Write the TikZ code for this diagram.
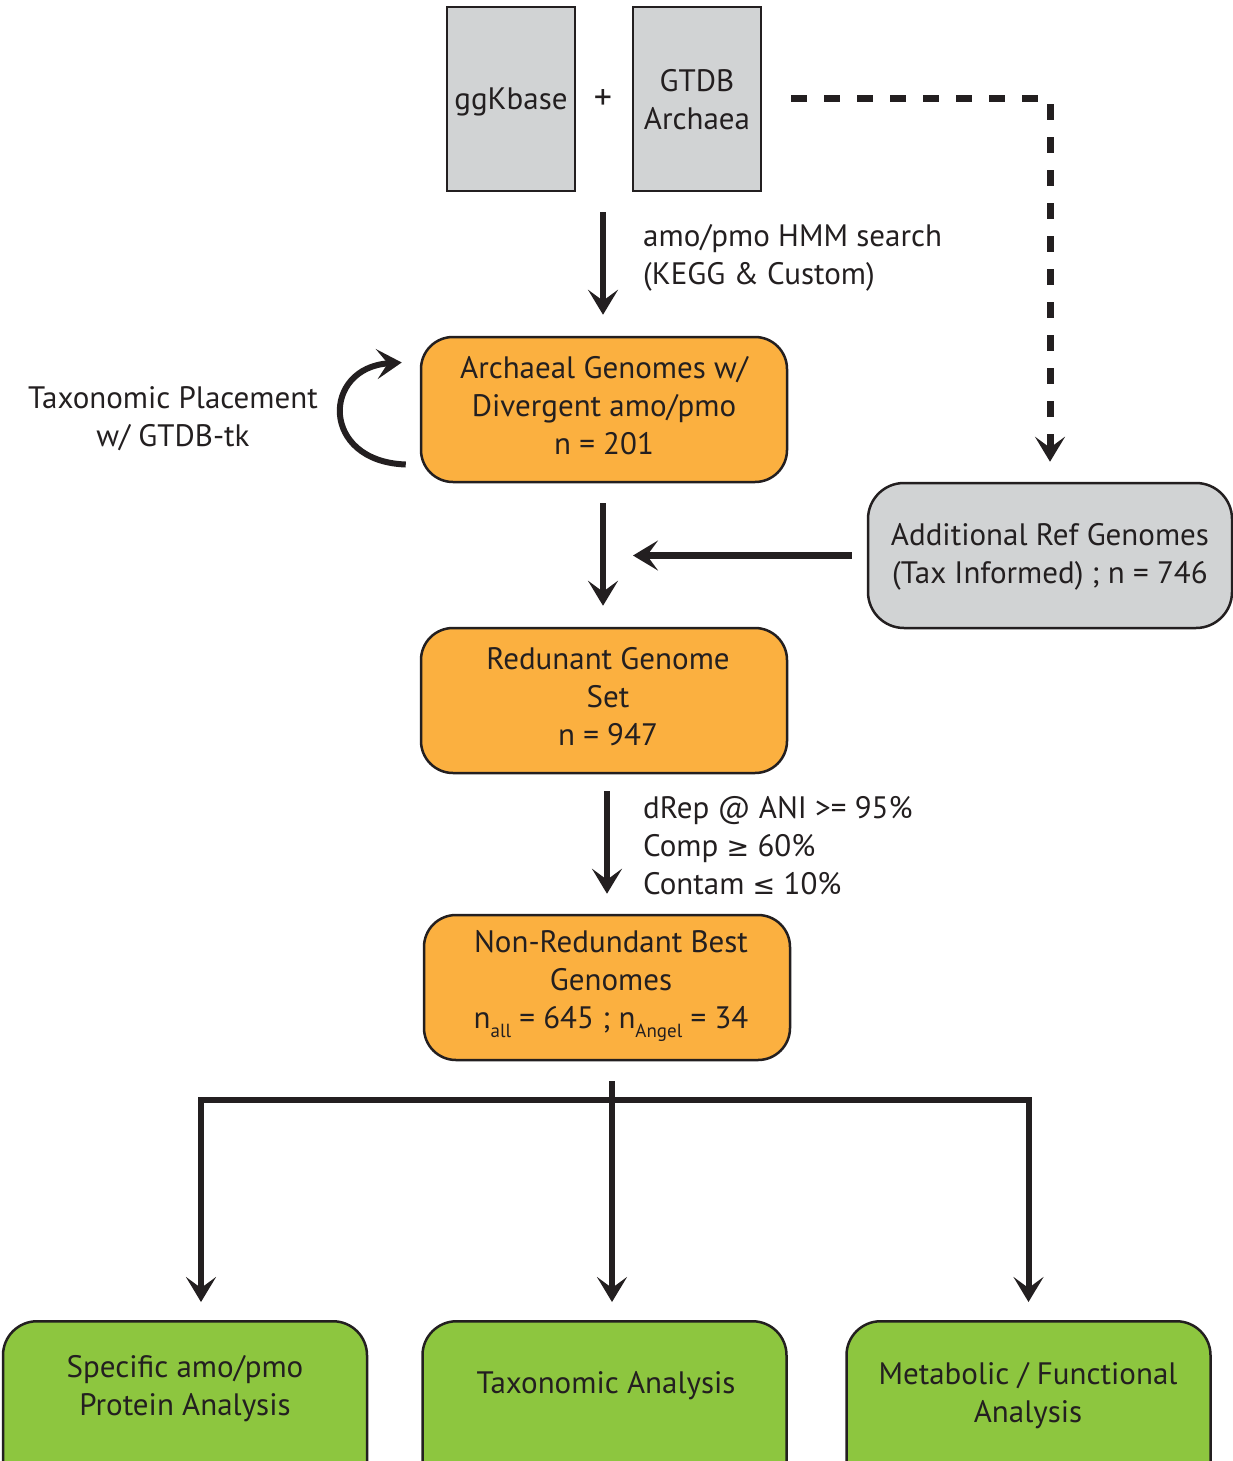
\documentclass[tikz,border=0pt]{standalone}
\usepackage{fontspec}
\setmainfont{PT Sans}
\newfontfamily\symf{DejaVu Sans}
\usetikzlibrary{arrows.meta,calc}
\definecolor{ink}{HTML}{231F20}
\definecolor{boxgray}{HTML}{D1D3D4}
\definecolor{orng}{HTML}{FBB040}
\definecolor{grn}{HTML}{8DC63F}
\newcommand{\lowsub}[1]{\raisebox{-0.32em}{\fontsize{19}{19}\selectfont #1}}
\begin{document}
\begin{tikzpicture}[x=1pt,y=-1pt,
  every node/.style={font=\fontsize{31}{38}\selectfont, text=ink},
  srcbox/.style={draw=ink, line width=2.5pt, fill=boxgray, minimum width=128pt, minimum height=184pt, inner sep=0pt, align=center},
  obox/.style={draw=ink, line width=2.5pt, fill=orng, rounded corners=32pt, minimum width=366pt, minimum height=145pt, inner sep=0pt},
  gbox/.style={draw=ink, line width=2.5pt, fill=grn, rounded corners=34pt, minimum width=364pt, minimum height=190pt, inner sep=0pt, anchor=north},
  txt/.style={align=center, inner sep=0pt},
  headtip/.style={-{Stealth[length=25pt,width=30pt,inset=11pt]}},
  flow/.style={draw=ink, line width=6.5pt, headtip},
  dashflow/.style={draw=ink, line width=7pt, dash pattern=on 16pt off 17pt, headtip},
]
\useasboundingbox (0,0) rectangle (1233,1461);

% source boxes
\node[srcbox] (gg) at (511,99) {};
\node[txt] (ggt) at (511,102) {ggKbase};
\node[srcbox] (gtdb) at (697,99) {};
\node[txt] (gtdbt) at (697,100) {GTDB\\Archaea};
\node[txt, font=\fontsize{36}{38}\selectfont] (plus) at (603,100) {+};

% orange boxes
\node[obox] (arch) at (604,409.5) {};
\node[txt] (archt) at (604,406) {Archaeal Genomes w/\\Divergent amo/pmo\\n = 201};
\node[obox] (red) at (604,700.5) {};
\node[txt] (redt) at (608,697) {Redunant Genome\\Set\\n = 947};
\node[obox] (nr) at (607,987.5) {};
\node[txt] (nrt) at (611,986) {Non-Redundant Best\\Genomes\\n\lowsub{all} = 645 ; n\lowsub{Angel} = 34};

% additional ref box
\node[draw=ink, line width=2.5pt, fill=boxgray, rounded corners=36pt, minimum width=364pt, minimum height=145pt, inner sep=0pt] (add) at (1050,555.5) {};
\node[txt] (addt) at (1050,557) {Additional Ref Genomes\\(Tax Informed) ; n = 746};

% green boxes
\node[gbox] (g1) at (185,1320) {};
\node[txt] (g1t) at (185,1389) {Specific amo/pmo\\Protein Analysis};
\node[gbox] (g2) at (604.5,1320) {};
\node[txt] (g2t) at (606,1386) {Taxonomic Analysis};
\node[gbox] (g3) at (1028.5,1320) {};
\node[txt] (g3t) at (1028,1396) {Metabolic / Functional\\Analysis};

% labels
\node[txt, anchor=west, align=left] (lblA) at (643,258) {amo/pmo HMM search\\(KEGG \& Custom)};
\node[txt] (lblT) at (173,419) {Taxonomic Placement\\w/ GTDB-tk};
\node[txt, anchor=west, align=left] (lblD) at (643,846) {dRep @ ANI >= 95\%\\Comp {\symf\fontsize{27}{38}\selectfont ≥} 60\%\\Contam {\symf\fontsize{27}{38}\selectfont ≤} 10\%};

% connectors
\draw[flow, shorten <=20pt, shorten >=21pt] (plus |- gg.south) -- (plus |- arch.north);
\draw[flow, shorten <=20pt, shorten >=21pt] (plus |- arch.south) -- (plus |- red.north);
\draw[flow, shorten <=17pt, shorten >=20pt] ($(red.south)+(3,0)$) -- ($(nr.north)+(0,0)$);
\coordinate (mid) at (603,555.5);
\draw[flow, shorten <=15pt, shorten >=30pt] (add.west) -- (mid);
\draw[dashflow, shorten <=29pt, shorten >=20pt] (gtdb.east) -- (gtdb.east -| add.north) -- (add.north);
\draw[draw=ink, line width=6pt, headtip] ($(arch.west)+(-14,55)$) .. controls ($(arch.west)+(-100,52)$) and ($(arch.west)+(-98,-42)$) .. ($(arch.west)+(-18,-47)$);

% distribution tree
\coordinate (hub) at (612,1100);
\draw[flow, line width=5.5pt, shorten <=20pt, shorten >=18pt] (hub |- nr.south) -- (hub |- g2.north);
\draw[flow, line width=6pt, shorten >=18pt] (hub) -| ($(g1.north)+(16,0)$);
\draw[flow, line width=6pt, shorten >=18pt] (hub) -| ($(g3.north)+(0,0)$);
\end{tikzpicture}
\end{document}
